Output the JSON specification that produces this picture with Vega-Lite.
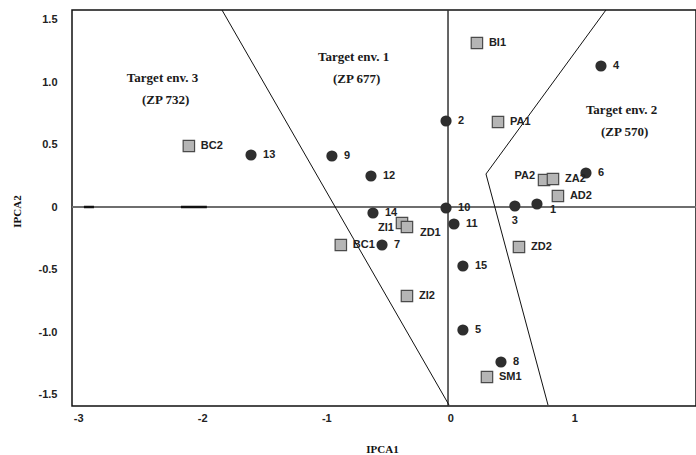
{
  "$schema": "https://vega.github.io/schema/vega-lite/v6.json",
  "width": 624,
  "height": 396,
  "autosize": "none",
  "padding": {"left": 72, "top": 10, "right": 0, "bottom": 49},
  "background": "white",
  "config": {
    "view": {"stroke": "#111", "strokeWidth": 1.5},
    "axis": {"grid": false, "ticks": false, "domain": false}
  },
  "datasets": {
    "pts": [
      {"name": "4", "kind": "env", "x": 1.214, "y": 1.128},
      {"name": "2", "kind": "env", "x": -0.035, "y": 0.688},
      {"name": "13", "kind": "env", "x": -1.607, "y": 0.416},
      {"name": "9", "kind": "env", "x": -0.955, "y": 0.408},
      {"name": "12", "kind": "env", "x": -0.64, "y": 0.248},
      {"name": "6", "kind": "env", "x": 1.093, "y": 0.272},
      {"name": "14", "kind": "env", "x": -0.624, "y": -0.048},
      {"name": "10", "kind": "env", "x": -0.035, "y": -0.008},
      {"name": "3", "kind": "env", "x": 0.52, "y": 0.008},
      {"name": "1", "kind": "env", "x": 0.698, "y": 0.024},
      {"name": "11", "kind": "env", "x": 0.029, "y": -0.136},
      {"name": "7", "kind": "env", "x": -0.551, "y": -0.304},
      {"name": "15", "kind": "env", "x": 0.101, "y": -0.472},
      {"name": "5", "kind": "env", "x": 0.101, "y": -0.984},
      {"name": "8", "kind": "env", "x": 0.408, "y": -1.24},
      {"name": "BI1", "kind": "gen", "x": 0.214, "y": 1.312},
      {"name": "PA1", "kind": "gen", "x": 0.384, "y": 0.68},
      {"name": "BC2", "kind": "gen", "x": -2.108, "y": 0.488},
      {"name": "PA2", "kind": "gen", "x": 0.755, "y": 0.216},
      {"name": "ZA2", "kind": "gen", "x": 0.827, "y": 0.224},
      {"name": "AD2", "kind": "gen", "x": 0.867, "y": 0.088},
      {"name": "ZI1", "kind": "gen", "x": -0.39, "y": -0.128},
      {"name": "ZD1", "kind": "gen", "x": -0.35, "y": -0.16},
      {"name": "BC1", "kind": "gen", "x": -0.883, "y": -0.304},
      {"name": "ZI2", "kind": "gen", "x": -0.35, "y": -0.712},
      {"name": "ZD2", "kind": "gen", "x": 0.553, "y": -0.32},
      {"name": "SM1", "kind": "gen", "x": 0.295, "y": -1.36}
    ],
    "sectors": [
      {"line": "a", "ord": 1, "x": -1.841, "y": 1.576},
      {"line": "a", "ord": 2, "x": -0.011, "y": -1.584},
      {"line": "b", "ord": 1, "x": 1.254, "y": 1.576},
      {"line": "b", "ord": 2, "x": 0.287, "y": 0.264},
      {"line": "b", "ord": 3, "x": 0.787, "y": -1.584}
    ],
    "notes": [
      {"l1": "Target env. 3", "l2": "(ZP 732)", "x": -2.32, "y": 0.944},
      {"l1": "Target env. 1", "l2": "(ZP 677)", "x": -0.78, "y": 1.116},
      {"l1": "Target env. 2", "l2": "(ZP 570)", "x": 1.38, "y": 0.692}
    ],
    "hline": [{"v": 0}],
    "vline": [{"v": -0.019}],
    "marks0": [
      {"x1": -2.954, "x2": -2.873},
      {"x1": -2.172, "x2": -1.963}
    ]
  },
  "layer": [
    {
      "data": {"name": "hline"},
      "mark": {"type": "rule", "color": "#6e6e6e", "strokeWidth": 2},
      "encoding": {"y": {"field": "v", "type": "quantitative", "scale": {"domain": [-1.592, 1.576], "nice": false, "zero": false}}}
    },
    {
      "data": {"name": "marks0"},
      "mark": {"type": "rule", "color": "#111", "strokeWidth": 2.5},
      "encoding": {
        "x": {"field": "x1", "type": "quantitative"},
        "x2": {"field": "x2"},
        "y": {"datum": 0, "type": "quantitative"}
      }
    },
    {
      "data": {"name": "vline"},
      "mark": {"type": "rule", "color": "#333", "strokeWidth": 1.5},
      "encoding": {"x": {"field": "v", "type": "quantitative"}}
    },
    {
      "data": {"name": "sectors"},
      "mark": {"type": "line", "color": "#111", "strokeWidth": 1, "clip": true},
      "encoding": {
        "x": {"field": "x", "type": "quantitative"},
        "y": {"field": "y", "type": "quantitative"},
        "detail": {"field": "line"},
        "order": {"field": "ord"}
      }
    },
    {
      "data": {"name": "pts"},
      "transform": [{"filter": "datum.kind == 'env'"}],
      "mark": {"type": "point", "shape": "circle", "filled": true, "size": 125, "color": "#2e2e2e", "opacity": 1},
      "encoding": {
        "x": {"field": "x", "type": "quantitative"},
        "y": {"field": "y", "type": "quantitative"}
      }
    },
    {
      "data": {"name": "pts"},
      "transform": [{"filter": "datum.kind == 'gen'"}],
      "mark": {"type": "square", "size": 130, "fill": "#b5b5b5", "stroke": "#4a4a4a", "strokeWidth": 1.2, "opacity": 1, "fillOpacity": 1},
      "encoding": {
        "x": {"field": "x", "type": "quantitative"},
        "y": {"field": "y", "type": "quantitative"}
      }
    },
    {
      "data": {"name": "pts"},
      "transform": [{"filter": "indexof(['ZI1','PA2','3','1','ZD1'], datum.name) < 0"}],
      "mark": {"type": "text", "align": "left", "baseline": "middle", "dx": 12, "font": "Liberation Sans", "fontWeight": "bold", "fontSize": 11, "color": "#222"},
      "encoding": {
        "x": {"field": "x", "type": "quantitative"},
        "y": {"field": "y", "type": "quantitative"},
        "text": {"field": "name"}
      }
    },
    {
      "data": {"name": "pts"},
      "transform": [{"filter": "datum.name == 'PA2'"}],
      "mark": {"type": "text", "align": "right", "baseline": "middle", "dx": -9, "dy": -4, "font": "Liberation Sans", "fontWeight": "bold", "fontSize": 11, "color": "#222"},
      "encoding": {
        "x": {"field": "x", "type": "quantitative"},
        "y": {"field": "y", "type": "quantitative"},
        "text": {"field": "name"}
      }
    },
    {
      "data": {"name": "pts"},
      "transform": [{"filter": "datum.name == 'ZI1'"}],
      "mark": {"type": "text", "align": "right", "baseline": "middle", "dx": -8, "dy": 5, "font": "Liberation Sans", "fontWeight": "bold", "fontSize": 11, "color": "#222"},
      "encoding": {
        "x": {"field": "x", "type": "quantitative"},
        "y": {"field": "y", "type": "quantitative"},
        "text": {"field": "name"}
      }
    },
    {
      "data": {"name": "pts"},
      "transform": [{"filter": "datum.name == '1' || datum.name == 'ZD1'"}],
      "mark": {"type": "text", "align": "left", "baseline": "middle", "dx": 13, "dy": 6, "font": "Liberation Sans", "fontWeight": "bold", "fontSize": 11, "color": "#222"},
      "encoding": {
        "x": {"field": "x", "type": "quantitative"},
        "y": {"field": "y", "type": "quantitative"},
        "text": {"field": "name"}
      }
    },
    {
      "data": {"name": "pts"},
      "transform": [{"filter": "datum.name == '3'"}],
      "mark": {"type": "text", "align": "center", "baseline": "middle", "dy": 15, "font": "Liberation Sans", "fontWeight": "bold", "fontSize": 11, "color": "#222"},
      "encoding": {
        "x": {"field": "x", "type": "quantitative"},
        "y": {"field": "y", "type": "quantitative"},
        "text": {"field": "name"}
      }
    },
    {
      "data": {"name": "notes"},
      "mark": {"type": "text", "align": "center", "baseline": "middle", "dy": -11, "font": "Liberation Serif", "fontWeight": "bold", "fontSize": 13, "color": "#1a1a1a"},
      "encoding": {
        "x": {"field": "x", "type": "quantitative"},
        "y": {"field": "y", "type": "quantitative"},
        "text": {"field": "l1"}
      }
    },
    {
      "data": {"name": "notes"},
      "mark": {"type": "text", "align": "center", "baseline": "middle", "dy": 11, "dx": 3, "font": "Liberation Serif", "fontWeight": "bold", "fontSize": 13, "color": "#1a1a1a"},
      "encoding": {
        "x": {
          "field": "x", "type": "quantitative",
          "scale": {"domain": [-3.05, 1.98], "nice": false, "zero": false},
          "axis": {
            "title": "IPCA1",
            "values": [-3, -2, -1, 0, 1],
            "labelExpr": "datum.value < 0 ? '-' + format(-datum.value, 'd') : format(datum.value, 'd')",
            "labelFont": "Liberation Sans", "labelFontWeight": "bold", "labelFontSize": 11, "labelColor": "#222",
            "labelPadding": 6,
            "titleFont": "Liberation Serif", "titleFontWeight": "bold", "titleFontSize": 11, "titleColor": "#111",
            "titleX": 310, "titleY": 37, "titleBaseline": "top"
          }
        },
        "y": {
          "field": "y", "type": "quantitative",
          "axis": {
            "title": "IPCA2",
            "values": [-1.5, -1, -0.5, 0, 0.5, 1, 1.5],
            "labelExpr": "datum.value == 0 ? '0' : (datum.value < 0 ? '-' + format(-datum.value, '.1f') : format(datum.value, '.1f'))",
            "labelFont": "Liberation Sans", "labelFontWeight": "bold", "labelFontSize": 11, "labelColor": "#222",
            "labelPadding": 15,
            "titleFont": "Liberation Serif", "titleFontWeight": "bold", "titleFontSize": 11, "titleColor": "#111",
            "titleX": -55, "titleY": 201, "titleAlign": "center", "titleBaseline": "middle", "titleAngle": -90
          }
        },
        "text": {"field": "l2"}
      }
    }
  ]
}
